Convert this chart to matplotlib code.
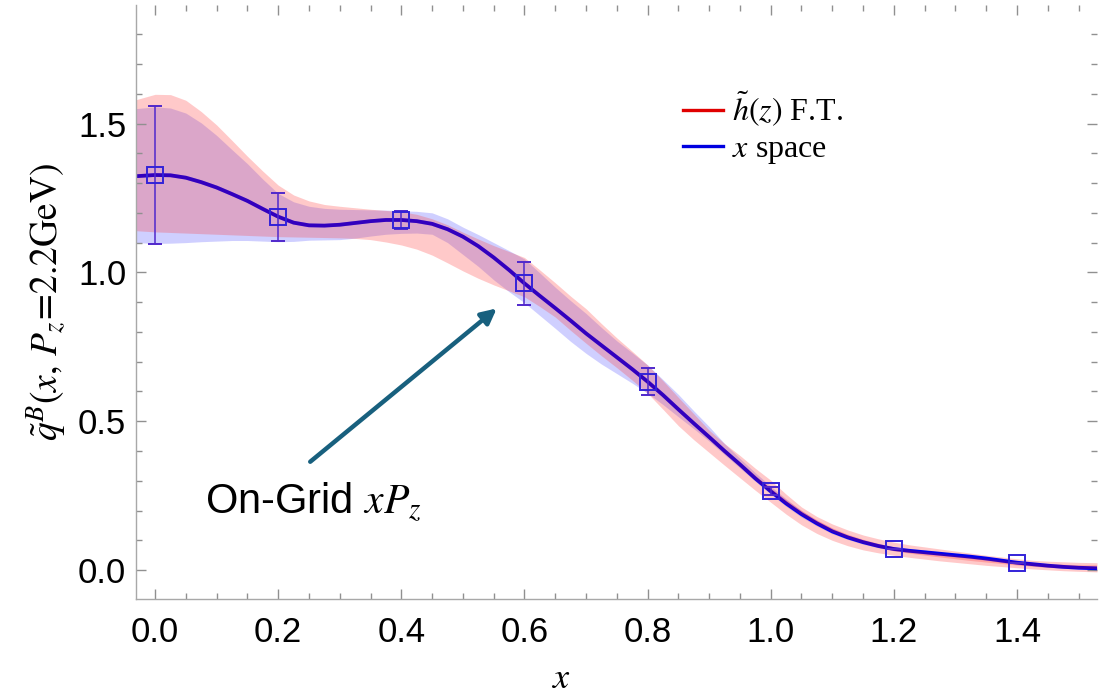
import numpy as np
import matplotlib.pyplot as plt
from matplotlib.lines import Line2D
from matplotlib.ticker import MultipleLocator, FormatStrFormatter

plt.rcParams['mathtext.fontset'] = 'stix'

# x grid shared by the curves and bands
x_grid = [-0.031, 0.000, 0.025, 0.050, 0.075, 0.100, 0.125, 0.150, 0.175, 0.200,
          0.225, 0.250, 0.275, 0.300, 0.325, 0.350, 0.375, 0.400, 0.425, 0.450,
          0.475, 0.500, 0.525, 0.550, 0.575, 0.600, 0.625, 0.650, 0.675, 0.700,
          0.725, 0.750, 0.775, 0.800, 0.825, 0.850, 0.875, 0.900, 0.925, 0.950,
          0.975, 1.000, 1.025, 1.050, 1.075, 1.100, 1.125, 1.150, 1.175, 1.200,
          1.225, 1.250, 1.275, 1.300, 1.325, 1.350, 1.375, 1.400, 1.425, 1.450,
          1.475, 1.500, 1.530]

# x-space result
xsp_mid = [1.323, 1.327, 1.326, 1.318, 1.303, 1.285, 1.263, 1.240, 1.213, 1.187,
           1.167, 1.158, 1.157, 1.160, 1.166, 1.172, 1.176, 1.176, 1.172, 1.163,
           1.145, 1.120, 1.088, 1.050, 1.008, 0.963, 0.921, 0.880, 0.838, 0.795,
           0.755, 0.715, 0.675, 0.633, 0.588, 0.540, 0.493, 0.447, 0.400, 0.355,
           0.308, 0.265, 0.224, 0.188, 0.157, 0.130, 0.110, 0.094, 0.081, 0.071,
           0.065, 0.060, 0.055, 0.050, 0.045, 0.039, 0.032, 0.025, 0.020, 0.015,
           0.011, 0.008, 0.006]
xsp_lo = [1.100, 1.097, 1.098, 1.100, 1.103, 1.105, 1.107, 1.107, 1.105, 1.103,
          1.104, 1.108, 1.109, 1.110, 1.115, 1.122, 1.128, 1.131, 1.132, 1.128,
          1.100, 1.060, 1.020, 0.975, 0.935, 0.898, 0.855, 0.812, 0.768, 0.728,
          0.692, 0.660, 0.628, 0.594, 0.556, 0.515, 0.475, 0.433, 0.388, 0.343,
          0.298, 0.255, 0.214, 0.178, 0.148, 0.122, 0.103, 0.087, 0.075, 0.065,
          0.059, 0.054, 0.049, 0.044, 0.039, 0.033, 0.026, 0.019, 0.014, 0.010,
          0.006, 0.004, 0.002]
xsp_hi = [1.550, 1.556, 1.552, 1.535, 1.502, 1.460, 1.412, 1.365, 1.313, 1.265,
          1.237, 1.222, 1.215, 1.212, 1.211, 1.210, 1.209, 1.207, 1.205, 1.200,
          1.180, 1.152, 1.127, 1.100, 1.073, 1.045, 0.998, 0.950, 0.905, 0.862,
          0.815, 0.770, 0.730, 0.689, 0.640, 0.590, 0.535, 0.482, 0.425, 0.375,
          0.327, 0.282, 0.239, 0.200, 0.167, 0.140, 0.118, 0.101, 0.088, 0.078,
          0.072, 0.067, 0.061, 0.056, 0.051, 0.045, 0.038, 0.031, 0.025, 0.020,
          0.016, 0.012, 0.010]

# Fourier transform of h(z)
ft_mid = [1.323, 1.327, 1.326, 1.318, 1.303, 1.285, 1.263, 1.240, 1.213, 1.187,
          1.167, 1.158, 1.157, 1.160, 1.166, 1.172, 1.176, 1.176, 1.172, 1.163,
          1.145, 1.120, 1.088, 1.050, 1.008, 0.963, 0.921, 0.880, 0.838, 0.795,
          0.755, 0.715, 0.675, 0.633, 0.588, 0.540, 0.493, 0.447, 0.400, 0.355,
          0.310, 0.267, 0.228, 0.192, 0.161, 0.134, 0.113, 0.096, 0.082, 0.070,
          0.062, 0.055, 0.049, 0.043, 0.037, 0.032, 0.027, 0.022, 0.018, 0.014,
          0.012, 0.010, 0.010]
ft_lo = [1.140, 1.136, 1.134, 1.132, 1.130, 1.128, 1.126, 1.124, 1.122, 1.120,
         1.119, 1.118, 1.117, 1.116, 1.114, 1.110, 1.102, 1.092, 1.078, 1.058,
         1.032, 1.005, 0.980, 0.958, 0.938, 0.918, 0.885, 0.850, 0.805, 0.762,
         0.720, 0.680, 0.638, 0.594, 0.540, 0.485, 0.438, 0.395, 0.352, 0.310,
         0.268, 0.228, 0.188, 0.152, 0.123, 0.100, 0.082, 0.068, 0.058, 0.050,
         0.043, 0.037, 0.031, 0.026, 0.021, 0.016, 0.012, 0.008, 0.004, 0.001,
         -0.002, -0.004, -0.006]
ft_hi = [1.580, 1.598, 1.597, 1.578, 1.540, 1.495, 1.443, 1.390, 1.340, 1.293,
         1.260, 1.240, 1.228, 1.222, 1.217, 1.212, 1.208, 1.204, 1.195, 1.180,
         1.160, 1.135, 1.112, 1.090, 1.070, 1.050, 1.008, 0.965, 0.920, 0.878,
         0.828, 0.780, 0.735, 0.689, 0.636, 0.580, 0.525, 0.470, 0.425, 0.385,
         0.342, 0.302, 0.255, 0.212, 0.180, 0.155, 0.135, 0.118, 0.105, 0.094,
         0.085, 0.078, 0.071, 0.064, 0.057, 0.050, 0.044, 0.038, 0.033, 0.030,
         0.028, 0.026, 0.025]

# on-grid points
grid_x = [0.0, 0.2, 0.4, 0.6, 0.8, 1.0, 1.2, 1.4]
grid_y = [1.327, 1.186, 1.176, 0.963, 0.633, 0.265, 0.070, 0.025]
grid_err = [0.233, 0.080, 0.031, 0.071, 0.046, 0.013, 0.0, 0.0]

W, H = 1109, 693
fig = plt.figure(figsize=(W / 100, H / 100), dpi=100)
ax = fig.add_axes([136 / W, 1 - 599 / H, (1097 - 136) / W, (599 - 5) / H])

ax.fill_between(x_grid, xsp_lo, xsp_hi, color='#3a3aff', alpha=0.24, lw=0)
ax.fill_between(x_grid, ft_lo, ft_hi, color='#ff3a3a', alpha=0.27, lw=0)
ax.plot(x_grid, xsp_mid, color='#0000ee', lw=2.7, solid_capstyle='butt')
ax.plot(x_grid, ft_mid, color='#ff0000', lw=2.7, alpha=0.2, solid_capstyle='butt')

ax.errorbar(grid_x, grid_y, yerr=grid_err, fmt='s', ms=11.5, mfc='none',
            mec='#3322d8', mew=1.4, ecolor='#5028cc', elinewidth=1.1,
            capsize=5, capthick=1.1, zorder=5)

ax.set_xlim(-0.031, 1.530)
ax.set_ylim(-0.097, 1.898)

for side in ['top', 'right']:
    ax.spines[side].set_visible(False)
for side in ['left', 'bottom']:
    ax.spines[side].set_color('#a8a8a8')
    ax.spines[side].set_linewidth(1.0)

ax.xaxis.set_major_locator(MultipleLocator(0.2))
ax.xaxis.set_minor_locator(MultipleLocator(0.05))
ax.yaxis.set_major_locator(MultipleLocator(0.5))
ax.yaxis.set_minor_locator(MultipleLocator(0.1))
ax.xaxis.set_major_formatter(FormatStrFormatter('%.1f'))
ax.yaxis.set_major_formatter(FormatStrFormatter('%.1f'))
ax.tick_params(which='both', direction='in', top=True, right=True, color='#909090', width=1)
ax.tick_params(which='major', length=7)
ax.tick_params(which='minor', length=4)
ax.tick_params(axis='x', which='major', pad=12)
ax.tick_params(axis='y', which='major', pad=7)
for lab in ax.get_xticklabels() + ax.get_yticklabels():
    lab.set_fontfamily('Liberation Sans')
    lab.set_fontsize(25)

fig.text(562 / W, 1 - 678 / H, r'$x$', fontsize=26, ha='center', va='center')
fig.text(47 / W, 1 - 302 / H, r'$\tilde{q}^{B}(x,\, P_z\!=\!2.2\mathrm{GeV})$',
         fontsize=27, rotation=90, ha='center', va='center')

# legend
handles = [Line2D([], [], color='#e00000', lw=2.4), Line2D([], [], color='#0000e0', lw=2.4)]
ax.legend(handles, [r'$\tilde{h}(z)$ F.T.', r'$x$ space'],
          loc='upper left', bbox_to_anchor=(683 / W, 1 - 90 / H),
          bbox_transform=fig.transFigure, frameon=False, borderpad=0,
          borderaxespad=0, handlelength=1.25, handletextpad=0.28, labelspacing=0.18,
          prop={'family': 'Liberation Serif', 'size': 23})

# arrow pointing at the on-grid points
ax.annotate('', xy=(0.555, 0.879), xytext=(0.252, 0.364),
            arrowprops=dict(arrowstyle='-|>,head_length=0.9,head_width=0.45',
                            color='#18607e', lw=3.2, shrinkA=0, shrinkB=0))
ax.text(0.081, 0.191, r'On-Grid $xP_z$', fontsize=30, family='Liberation Sans',
        ha='left', va='baseline')

fig.savefig('out.png', dpi=100)
